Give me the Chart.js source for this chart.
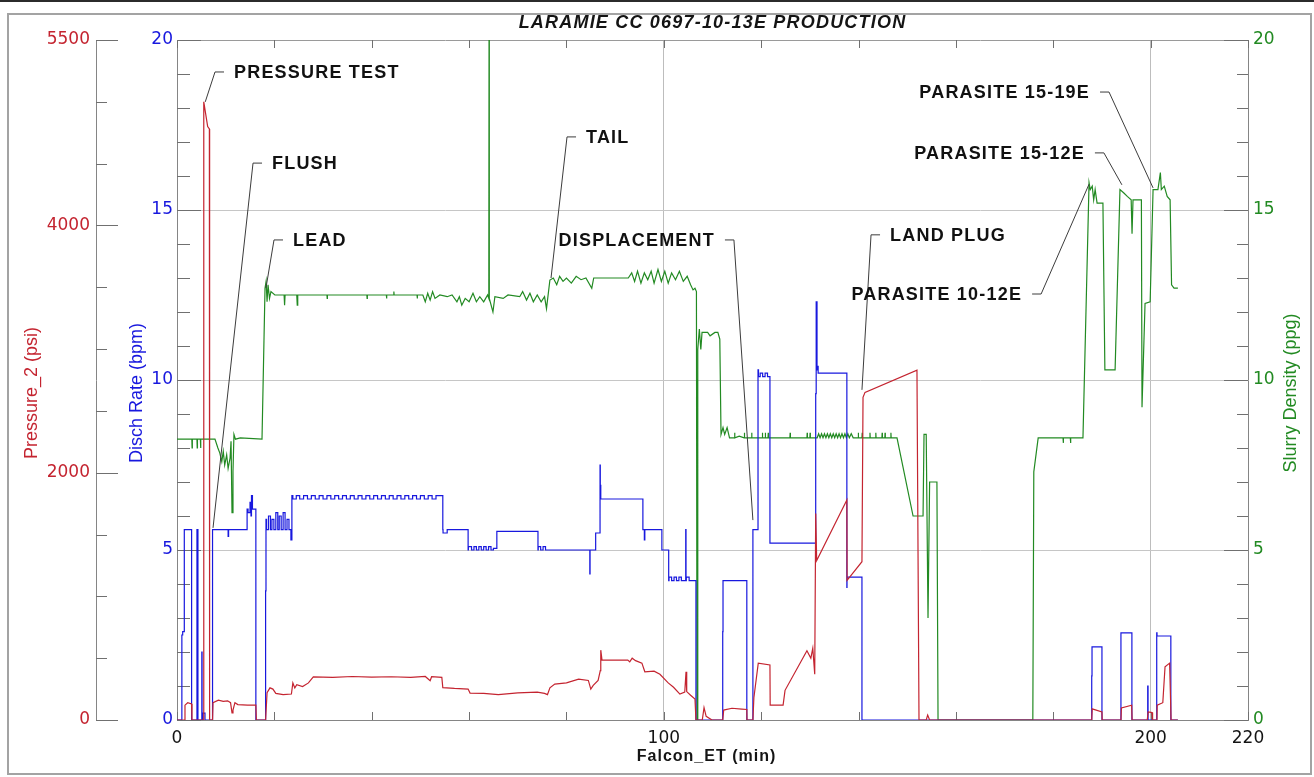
<!DOCTYPE html>
<html>
<head>
<meta charset="utf-8">
<title>LARAMIE CC 0697-10-13E PRODUCTION</title>
<script src="https://cdn.jsdelivr.net/npm/chart.js@4.4.1/dist/chart.umd.min.js"></script>
<style>
  body { margin: 0; background: #fff; }
  canvas { display: block; }
</style>
</head>
<body>
<canvas id="job" width="1314" height="777"></canvas>
<script>
const chartTitle = "LARAMIE CC 0697-10-13E PRODUCTION";
const timeTitle = "Falcon_ET (min)";
const pressureTitle = "Pressure_2 (psi)";
const rateTitle = "Disch Rate (bpm)";
const densityTitle = "Slurry Density (ppg)";

const timeLabels = [0, 100, 200, 220];
const pressureLabels = [0, 2000, 4000, 5500];
const rateLabels = [0, 5, 10, 15, 20];
const densityLabels = [0, 5, 10, 15, 20];

// [minutes, psi]
const pressure = [
  [0, 0], [1.6, 0], [1.64, 120], [2.2, 140], [3.0, 130], [3.08, 0], [5.4, 0], [5.5, 5000], [6.3, 4800], [6.65, 4780], [6.7, 0],
  [7.3, 0], [7.4, 140], [8.5, 160], [9.5, 150], [10.4, 155], [11.0, 140], [11.3, 57], [11.5, 80], [11.9, 140], [12.5, 125],
  [14.5, 120], [16.2, 120], [16.3, 0], [18.2, 0], [18.5, 220], [19.1, 260], [19.7, 250], [20.3, 215], [21.8, 205], [23.5, 210],
  [23.8, 300], [24.2, 260], [24.6, 285], [25.8, 270], [27.0, 300], [28.0, 348], [32, 345], [36, 352], [40, 346], [44, 350],
  [48, 345], [51, 352], [52.0, 318], [52.3, 350], [54.4, 345], [54.6, 262], [57, 255], [59.8, 250], [60.2, 218], [63, 215],
  [66, 205], [70, 220], [74, 225], [75.5, 215], [76.1, 205], [76.6, 260], [77.6, 290], [80, 300], [82.5, 330], [84.5, 320],
  [85.0, 250], [85.5, 280], [86.5, 320], [86.95, 400], [87.05, 565], [87.3, 485], [92.6, 485], [93.0, 470], [93.5, 500],
  [94.2, 480], [95.5, 460], [96.1, 390], [98.0, 395], [99.2, 370], [100.9, 300], [102.0, 265], [103.3, 210], [104.3, 225],
  [104.56, 390], [104.7, 230], [105.5, 200], [106.4, 170], [106.6, 0], [107.9, 0], [108.26, 100], [108.7, 30], [109.9, 0],
  [112.1, 0], [112.3, 80], [114, 95], [116, 88], [117.05, 85], [117.09, 0], [118.3, 0], [118.5, 180], [119.4, 460],
  [121.8, 445], [121.85, 120], [124.5, 120], [124.9, 240], [129.4, 560], [130.2, 500], [130.6, 580], [131.0, 370],
  [131.2, 1670], [131.4, 1290], [137.6, 1780], [137.65, 1130], [140.7, 1280], [140.92, 2610], [141.33, 2650], [152.0, 2830],
  [152.42, 0], [153.9, 0], [154.2, 40], [154.6, 0], [187.9, 0], [188.0, 90], [190.0, 65], [190.05, 0], [193.9, 0],
  [194.0, 97], [196.1, 120], [196.2, 0], [199.3, 0], [199.5, 65], [200.3, 60], [200.4, 0], [201.3, 0], [201.35, 120],
  [202.5, 140], [202.96, 430], [203.9, 460], [204.2, 0], [205.6, 0]
];

// [minutes, bpm]
const rate = [
  [0, 0], [1.0, 0], [1.17, 2.5], [1.5, 2.6], [1.64, 5.6], [3.0, 5.6], [3.08, 0], [4.1, 0], [4.15, 5.6], [4.3, 5.6], [4.35, 0],
  [5.1, 0], [5.15, 2.0], [5.3, 0], [5.75, 0.2], [5.85, 0], [7.3, 0], [7.4, 5.6], [10.5, 5.6], [10.6, 5.4], [10.7, 5.6],
  [14.4, 5.6], [14.6, 6.2], [15.0, 6.1], [15.2, 6.4], [15.3, 6.0], [15.5, 6.6], [15.7, 6.2], [16.2, 6.2], [16.3, 0],
  [18.2, 0], [18.28, 3.8], [18.4, 5.9], [18.8, 5.6], [19.2, 6.0], [19.5, 5.6], [19.9, 5.9], [20.3, 5.6], [20.7, 6.1],
  [21.0, 5.6], [21.4, 6.0], [21.8, 5.6], [22.2, 6.1], [22.6, 5.6], [23.0, 5.9], [23.4, 5.6], [23.6, 5.3], [23.8, 6.6],
  [24.5, 6.5], [25.2, 6.6], [26.0, 6.5], [26.8, 6.6], [27.6, 6.5], [28.4, 6.6], [29.2, 6.5], [30.0, 6.6], [30.8, 6.5],
  [31.6, 6.6], [32.4, 6.5], [33.2, 6.6], [34.0, 6.5], [34.8, 6.6], [35.6, 6.5], [36.4, 6.6], [37.2, 6.5], [38.0, 6.6],
  [38.8, 6.5], [39.6, 6.6], [40.4, 6.5], [41.2, 6.6], [42.0, 6.5], [42.8, 6.6], [43.6, 6.5], [44.4, 6.6], [45.2, 6.5],
  [46.0, 6.6], [46.8, 6.5], [47.6, 6.6], [48.4, 6.5], [49.2, 6.6], [50.0, 6.5], [50.8, 6.6], [51.6, 6.5], [52.4, 6.6],
  [53.2, 6.5], [54.0, 6.6], [54.6, 6.6], [54.65, 5.6], [55.5, 5.5], [55.6, 5.6], [59.8, 5.6], [59.85, 5.0], [60.5, 5.1],
  [61.0, 5.0], [61.5, 5.1], [62.0, 5.0], [62.5, 5.1], [63.0, 5.0], [63.5, 5.1], [64.0, 5.0], [64.5, 5.1], [65.0, 5.0],
  [65.7, 5.05], [65.75, 5.55], [74.15, 5.55], [74.2, 5.0], [74.7, 5.1], [75.2, 5.0], [75.7, 5.1], [76.2, 5.0], [84.8, 5.0],
  [84.85, 4.3], [84.95, 5.0], [86.0, 5.0], [86.07, 5.5], [86.9, 5.5], [86.95, 7.5], [87.05, 6.9], [87.1, 6.5], [95.7, 6.5],
  [95.73, 5.6], [96.0, 5.6], [96.1, 5.3], [96.2, 5.6], [99.6, 5.6], [99.63, 5.0], [101.0, 5.0], [101.07, 4.1], [101.6, 4.2],
  [102.1, 4.1], [102.6, 4.2], [103.1, 4.1], [103.6, 4.2], [104.5, 4.1], [104.56, 5.6], [104.62, 4.1], [105.2, 4.2],
  [105.8, 4.1], [106.6, 4.1], [106.61, 0], [112.1, 0], [112.16, 2.6], [112.3, 4.1], [117.05, 4.1], [117.09, 0], [118.3, 0],
  [118.53, 5.6], [119.35, 5.6], [119.45, 10.3], [119.8, 10.1], [120.3, 10.2], [120.8, 10.1], [121.3, 10.2], [121.8, 10.1],
  [121.82, 5.2], [131.2, 5.2], [131.3, 9.6], [131.47, 12.3], [131.55, 10.3], [131.7, 10.4], [132.2, 10.2], [137.6, 10.2],
  [137.63, 3.9], [137.8, 4.2], [140.7, 4.2], [140.75, 0], [187.9, 0], [187.96, 1.3], [188.0, 2.15], [190.0, 2.15],
  [190.05, 0], [193.9, 0], [193.92, 2.56], [196.15, 2.56], [196.2, 0], [199.4, 0], [199.47, 1.0], [199.55, 0], [201.25, 0],
  [201.31, 2.56], [201.6, 2.47], [204.15, 2.47], [204.2, 0], [205.6, 0]
];

// [minutes, ppg]
const density = [
  [0, 8.26], [3.05, 8.26], [3.1, 8.0], [3.15, 8.26], [4.1, 8.26], [4.15, 8.0], [4.2, 8.26], [4.8, 8.26], [4.85, 8.0],
  [4.9, 8.26], [7.8, 8.26], [8.4, 8.0], [8.8, 7.85], [9.2, 7.6], [9.5, 7.9], [9.8, 7.5], [10.2, 7.8], [10.5, 7.4],
  [10.9, 7.7], [11.1, 8.2], [11.3, 6.1], [11.5, 7.3], [11.7, 8.4], [12.0, 8.26], [13.0, 8.3], [17.46, 8.26], [18.08, 12.7],
  [18.3, 12.9], [18.5, 12.3], [18.7, 12.8], [19.0, 12.4], [19.3, 12.6], [20.1, 12.5], [22.0, 12.5], [22.1, 12.2],
  [22.2, 12.5], [24.6, 12.5], [24.7, 12.2], [24.8, 12.5], [30.8, 12.5], [30.85, 12.4], [30.9, 12.5], [39.0, 12.5],
  [39.05, 12.4], [39.1, 12.5], [43.0, 12.5], [43.05, 12.4], [43.1, 12.5], [44.5, 12.5], [44.55, 12.6], [44.6, 12.5],
  [49.3, 12.5], [49.35, 12.4], [49.4, 12.5], [50.5, 12.5], [51.0, 12.3], [51.5, 12.55], [52.0, 12.35], [52.5, 12.6],
  [53.0, 12.4], [54.0, 12.5], [55.5, 12.45], [56.5, 12.5], [57.5, 12.3], [58.0, 12.45], [58.5, 12.2], [59.2, 12.4],
  [60.0, 12.3], [60.8, 12.55], [61.5, 12.3], [62.2, 12.45], [63.0, 12.3], [63.8, 12.5], [64.05, 12.4], [64.1, 20],
  [64.15, 12.4], [64.9, 12.0], [65.3, 12.45], [67.0, 12.4], [68.0, 12.5], [70.4, 12.45], [71.0, 12.6], [71.8, 12.35],
  [72.5, 12.55], [73.2, 12.3], [74.0, 12.5], [74.8, 12.3], [75.5, 12.45], [75.9, 12.1], [76.6, 12.94], [77.3, 13.0],
  [78.0, 12.8], [78.6, 13.05], [79.3, 12.9], [80.0, 13.0], [81.0, 12.85], [82.0, 13.05], [83.0, 12.95], [84.0, 13.0],
  [85.2, 12.7], [85.6, 13.0], [86.2, 13.0], [92.7, 13.0], [93.4, 13.15], [94.0, 12.9], [94.6, 13.2], [95.3, 12.85],
  [96.0, 13.15], [96.7, 12.95], [97.4, 13.2], [98.0, 12.85], [98.8, 13.25], [99.5, 12.9], [100.2, 13.2], [100.9, 12.85],
  [101.6, 13.15], [102.4, 12.95], [103.2, 13.2], [104.0, 12.9], [104.8, 13.05], [105.5, 12.8], [106.0, 12.65],
  [106.4, 12.7], [106.7, 12.6], [106.82, 0], [106.95, 0], [107.0, 10.9], [107.3, 11.5], [107.6, 10.9], [107.85, 11.4],
  [109.0, 11.4], [109.5, 11.3], [110.5, 11.4], [111.1, 11.4], [111.5, 11.2], [111.75, 8.4], [112.16, 8.6], [112.5, 8.4],
  [113.0, 8.6], [113.5, 8.3], [114.5, 8.3], [114.55, 8.45], [114.6, 8.3], [115.5, 8.35], [116.5, 8.3], [116.55, 8.45],
  [116.6, 8.3], [118.0, 8.3], [118.05, 8.45], [118.1, 8.3], [120.2, 8.3], [120.25, 8.45], [120.3, 8.3], [120.8, 8.3],
  [120.85, 8.45], [120.9, 8.3], [121.4, 8.3], [121.45, 8.45], [121.5, 8.3], [125.9, 8.3], [125.95, 8.45], [126.0, 8.3],
  [129.4, 8.3], [129.45, 8.45], [129.5, 8.3], [130.0, 8.3], [130.05, 8.45], [130.1, 8.3], [131.5, 8.3], [131.8, 8.42],
  [132.1, 8.3], [132.4, 8.42], [132.7, 8.3], [133.0, 8.42], [133.3, 8.3], [133.6, 8.42], [133.9, 8.3], [134.2, 8.42],
  [134.5, 8.3], [134.8, 8.42], [135.1, 8.3], [135.4, 8.42], [135.7, 8.3], [136.0, 8.42], [136.3, 8.3], [136.6, 8.42],
  [136.9, 8.3], [137.2, 8.42], [137.5, 8.3], [137.8, 8.42], [138.1, 8.3], [138.5, 8.42], [138.9, 8.3], [139.9, 8.3],
  [139.95, 8.45], [140.0, 8.3], [140.7, 8.3], [140.75, 8.45], [140.8, 8.3], [142.3, 8.3], [142.35, 8.45], [142.4, 8.3],
  [143.5, 8.3], [143.55, 8.45], [143.6, 8.3], [144.8, 8.3], [144.85, 8.45], [144.9, 8.3], [145.4, 8.3], [145.45, 8.45],
  [145.5, 8.3], [146.6, 8.3], [146.65, 8.45], [146.7, 8.3], [147.9, 8.3], [151.2, 6.0], [153.25, 6.0], [153.45, 8.4],
  [153.9, 8.4], [154.27, 3.0], [154.6, 7.0], [156.1, 7.0], [156.33, 0], [175.8, 0], [176.0, 7.3], [176.9, 8.3],
  [182.0, 8.3], [182.05, 8.15], [182.1, 8.3], [183.5, 8.3], [183.55, 8.15], [183.6, 8.3], [186.1, 8.3], [187.35, 15.8],
  [187.6, 15.6], [188.0, 15.7], [188.3, 15.3], [188.6, 15.6], [189.0, 15.2], [190.2, 15.2], [190.6, 10.3], [192.7, 10.3],
  [193.7, 15.6], [194.5, 15.5], [195.2, 15.4], [196.0, 15.3], [196.18, 14.3], [196.38, 15.3], [198.1, 15.3], [198.23, 9.2],
  [198.85, 12.25], [199.9, 12.3], [200.5, 15.6], [201.5, 15.6], [202.0, 16.1], [202.2, 15.6], [202.8, 15.7], [203.4, 15.4],
  [204.0, 15.3], [204.3, 12.8], [204.8, 12.7], [205.6, 12.7]
];

// stage callouts, anchored in minutes / bpm
const callouts = [
  { text: "PRESSURE TEST", t: 11.71, v: 19.03, side: "left", tt: 5.8, tv: 18.18 },
  { text: "FLUSH", t: 19.52, v: 16.35, side: "left", tt: 7.40, tv: 5.65 },
  { text: "LEAD", t: 23.83, v: 14.09, side: "left", tt: 18.28, tv: 12.71 },
  { text: "TAIL", t: 84.02, v: 17.12, side: "left", tt: 76.83, tv: 13.0 },
  { text: "DISPLACEMENT", t: 110.5, v: 14.09, side: "right", tt: 118.3, tv: 5.88 },
  { text: "LAND PLUG", t: 146.47, v: 14.24, side: "left", tt: 140.7, tv: 9.71 },
  { text: "PARASITE 10-12E", t: 173.6, v: 12.5, side: "right", tt: 187.35, tv: 15.76 },
  { text: "PARASITE 15-12E", t: 186.5, v: 16.65, side: "right", tt: 194.1, tv: 15.74 },
  { text: "PARASITE 15-19E", t: 187.55, v: 18.44, side: "right", tt: 200.5, tv: 15.65 }
];

const RED = "rgb(196, 36, 48)";
const BLUE = "rgb(24, 24, 222)";
const GREEN = "rgb(34, 138, 34)";
const AXIS = "#858585";

function say(c, text, x, y, font, color, align, angle, spacing) {
  c.save();
  c.translate(x, y);
  if (angle) c.rotate(angle);
  c.font = font;
  c.fillStyle = color;
  c.textAlign = align;
  c.textBaseline = "middle";
  c.letterSpacing = spacing + "px";
  c.fillText(text, 0, 0);
  c.restore();
}

const decorations = {
  id: "decorations",
  beforeDraw(chart) {
    const c = chart.ctx;
    c.save();
    c.fillStyle = "#fff";
    c.fillRect(0, 0, chart.width, chart.height);
    c.fillStyle = "#2b2b2b";
    c.fillRect(0, 0, chart.width, 2);
    c.strokeStyle = "#a3a3a3";
    c.lineWidth = 2;
    c.strokeRect(8, 14, chart.width - 11, chart.height - 17);
    c.restore();
  },
  beforeDatasetsDraw(chart) {
    const c = chart.ctx, a = chart.chartArea, s = chart.scales;
    c.save();
    c.strokeStyle = "#707070";
    c.lineWidth = 1;
    c.beginPath();
    for (let v = 0; v <= 5500; v += 500) {
      const y = Math.round(s.psi.getPixelForValue(v)) + 0.5;
      c.moveTo(s.psi.right, y);
      c.lineTo(s.psi.right + (pressureLabels.includes(v) ? 22 : 11), y);
    }
    for (let v = 0; v <= 20; v++) {
      const y = Math.round(s.bpm.getPixelForValue(v)) + 0.5;
      c.moveTo(a.left, y);
      c.lineTo(a.left + (v % 5 ? 13 : 24), y);
      const y2 = Math.round(s.ppg.getPixelForValue(v)) + 0.5;
      c.moveTo(a.right, y2);
      c.lineTo(a.right - (v % 5 ? 11 : 24), y2);
    }
    for (let v = 0; v <= 220; v += 20) {
      const x = Math.round(s.x.getPixelForValue(v)) + 0.5;
      c.moveTo(x, a.bottom);
      c.lineTo(x, a.bottom - 8);
      c.moveTo(x, a.top);
      c.lineTo(x, a.top + 8);
    }
    c.stroke();
    c.restore();
  },
  afterDraw(chart) {
    const c = chart.ctx, a = chart.chartArea, s = chart.scales;
    const mid = (a.top + a.bottom) / 2 + 13;
    say(c, chartTitle, (a.left + a.right) / 2, a.top - 17, 'italic bold 18px "Liberation Sans", Arial', "#141414", "center", 0, 1.2);
    say(c, timeTitle, (a.left + a.right) / 2 - 6, a.bottom + 37, 'bold 16px "Liberation Sans", Arial', "#141414", "center", 0, 1);
    say(c, pressureTitle, 32, mid, '18px "Liberation Sans", Arial', RED, "center", -Math.PI / 2, 0);
    say(c, rateTitle, 137, mid, '18px "Liberation Sans", Arial', BLUE, "center", -Math.PI / 2, 0);
    say(c, densityTitle, 1291, mid, '18px "Liberation Sans", Arial', GREEN, "center", -Math.PI / 2, 0);

    c.save();
    c.strokeStyle = "#3c3c3c";
    c.lineWidth = 1;
    callouts.forEach((n) => {
      const x = s.x.getPixelForValue(n.t);
      const y = s.bpm.getPixelForValue(n.v);
      const dir = n.side === "left" ? -1 : 1;
      const hx = x + dir * 10;
      c.beginPath();
      c.moveTo(hx, y - 1);
      c.lineTo(hx + dir * 9, y - 1);
      c.lineTo(s.x.getPixelForValue(n.tt), s.bpm.getPixelForValue(n.tv));
      c.stroke();
      say(c, n.text, x, y, 'bold 18px "Liberation Sans", Arial', "#111", n.side === "left" ? "left" : "right", 0, 1.2);
    });
    c.restore();
  }
};

const tickFont = { family: '"DejaVu Sans", sans-serif', size: 17 };

function stepTicks(max, step) {
  const out = [];
  for (let v = 0; v <= max; v += step) out.push({ value: v });
  return out;
}

new Chart(document.getElementById("job"), {
  type: "scatter",
  data: {
    datasets: [
      {
        label: pressureTitle,
        data: pressure.map((p) => ({ x: p[0], y: p[1] })),
        yAxisID: "psi",
        borderColor: RED,
        borderWidth: 1.2,
        showLine: true,
        pointRadius: 0
      },
      {
        label: rateTitle,
        data: rate.map((p) => ({ x: p[0], y: p[1] })),
        yAxisID: "bpm",
        borderColor: BLUE,
        borderWidth: 1.2,
        showLine: true,
        stepped: "after",
        pointRadius: 0
      },
      {
        label: densityTitle,
        data: density.map((p) => ({ x: p[0], y: p[1] })),
        yAxisID: "ppg",
        borderColor: GREEN,
        borderWidth: 1.2,
        showLine: true,
        pointRadius: 0
      }
    ]
  },
  options: {
    responsive: false,
    devicePixelRatio: 1,
    animation: false,
    events: [],
    layout: { padding: { top: 40, left: 0, right: 0, bottom: 0 } },
    plugins: {
      legend: { display: false },
      tooltip: { enabled: false }
    },
    scales: {
      x: {
        type: "linear",
        position: "bottom",
        min: 0,
        max: 220,
        afterBuildTicks: (axis) => { axis.ticks = stepTicks(220, 20); },
        afterFit: (axis) => { axis.height = 57; },
        ticks: {
          autoSkip: false,
          maxRotation: 0,
          padding: 8,
          color: "#141414",
          font: tickFont,
          callback: (v) => (timeLabels.includes(v) ? v : "")
        },
        grid: {
          drawTicks: false,
          color: (ctx) => (ctx.tick && (ctx.tick.value === 100 || ctx.tick.value === 200) ? "#bdbdbd" : "rgba(0,0,0,0)")
        },
        border: { color: AXIS }
      },
      psi: {
        type: "linear",
        axis: "y",
        position: "left",
        weight: 1,
        min: 0,
        max: 5500,
        afterBuildTicks: (axis) => { axis.ticks = stepTicks(5500, 500); },
        afterFit: (axis) => { axis.width = 96; },
        ticks: {
          autoSkip: false,
          padding: 6,
          color: RED,
          font: tickFont,
          callback: (v) => (pressureLabels.includes(v) ? v : "")
        },
        grid: { drawOnChartArea: false, drawTicks: false },
        border: { color: AXIS }
      },
      bpm: {
        type: "linear",
        axis: "y",
        position: "left",
        weight: 0,
        min: 0,
        max: 20,
        afterBuildTicks: (axis) => { axis.ticks = stepTicks(20, 1); },
        afterFit: (axis) => { axis.width = 81; },
        ticks: {
          autoSkip: false,
          padding: 4,
          color: BLUE,
          font: tickFont,
          callback: (v) => (rateLabels.includes(v) ? v : "")
        },
        grid: {
          drawTicks: false,
          color: (ctx) => {
            const v = ctx.tick ? ctx.tick.value : -1;
            if (v === 20) return "#9a9a9a";
            return v === 5 || v === 10 || v === 15 ? "#c6c6c6" : "rgba(0,0,0,0)";
          }
        },
        border: { color: AXIS }
      },
      ppg: {
        type: "linear",
        axis: "y",
        position: "right",
        min: 0,
        max: 20,
        afterBuildTicks: (axis) => { axis.ticks = stepTicks(20, 1); },
        afterFit: (axis) => { axis.width = 66; },
        ticks: {
          autoSkip: false,
          padding: 5,
          color: GREEN,
          font: tickFont,
          callback: (v) => (densityLabels.includes(v) ? v : "")
        },
        grid: { drawOnChartArea: false, drawTicks: false },
        border: { color: AXIS }
      }
    }
  },
  plugins: [decorations]
});
</script>
</body>
</html>
